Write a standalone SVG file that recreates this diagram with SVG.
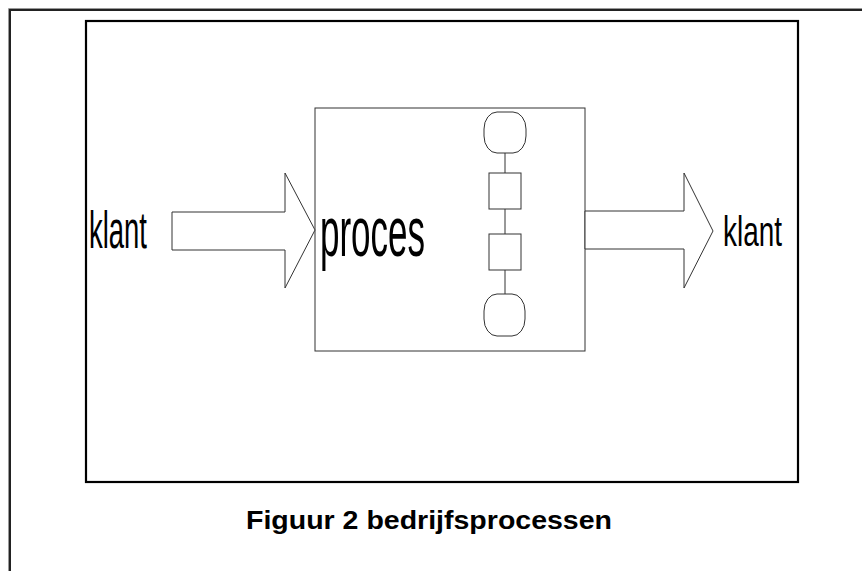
<svg xmlns="http://www.w3.org/2000/svg" width="862" height="571" viewBox="0 0 862 571">
<style>
.t{font-family:"Liberation Sans",Arial,sans-serif;fill:#000}
.ln{fill:none;stroke:#333;stroke-width:1}
.sh{fill:#fff;stroke:#333;stroke-width:1}
</style>
<rect width="862" height="571" fill="#fff"/>
<path d="M8.5,571 V8.5 H862" fill="none" stroke="#999" stroke-width="1"/>
<path d="M10,571 V10 H862" fill="none" stroke="#222" stroke-width="2"/>
<rect x="86" y="21" width="712" height="461" fill="none" stroke="#000" stroke-width="2.2"/>
<g id="proces">
<rect x="315" y="108" width="270" height="243" class="sh"/>
<text class="t" x="320" y="256" font-size="70" textLength="105" lengthAdjust="spacingAndGlyphs">proces</text>
</g>
<g id="connectors">
<path class="ln" d="M505,153 V173 M505,209 V234 M505,270 V294"/>
</g>
<g id="start"><rect x="484" y="112" width="42" height="41" rx="13" ry="17" class="sh"/></g>
<g id="stap1"><rect x="489" y="173" width="32" height="36" class="sh"/></g>
<g id="stap2"><rect x="489" y="234" width="32" height="36" class="sh"/></g>
<g id="eind"><rect x="484" y="294" width="41" height="42" rx="13" ry="17" class="sh"/></g>
<g id="pijl-in"><polygon class="sh" points="172,212 285,212 285,173 315,230 285,288 285,250 172,250"/></g>
<g id="pijl-uit"><polygon class="sh" points="585,211 684,211 684,173 713,231 684,288 684,249 585,249"/></g>
<g id="klant-in"><text class="t" x="89" y="248" font-size="51" textLength="58" lengthAdjust="spacingAndGlyphs">klant</text></g>
<g id="klant-uit"><text class="t" x="723" y="246" font-size="42" textLength="59" lengthAdjust="spacingAndGlyphs">klant</text></g>
<text class="t" x="429" y="529" font-size="26" font-weight="bold" text-anchor="middle" textLength="366" lengthAdjust="spacingAndGlyphs">Figuur 2 bedrijfsprocessen</text>
</svg>
